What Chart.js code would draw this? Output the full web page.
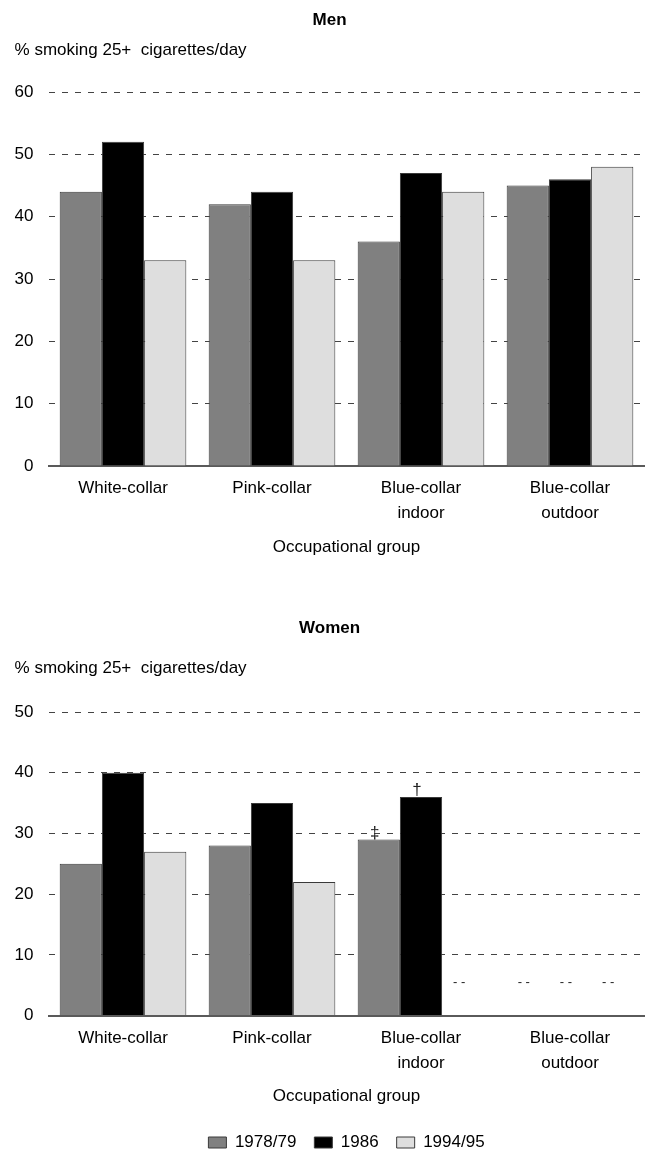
<!DOCTYPE html>
<html>
<head>
<meta charset="utf-8">
<title>Heavy smoking by occupational group</title>
<script src="https://cdn.jsdelivr.net/npm/chart.js@4.4.0/dist/chart.umd.min.js"></script>
<style>
    html, body { margin: 0; padding: 0; background: #fff; overflow: hidden; }
    canvas { display: block; }
</style>
</head>
<body>
<canvas id="men-chart" width="655" height="576"></canvas>
<canvas id="women-chart" width="655" height="585"></canvas>
<script>
// --- Data ---
const categories = ['White-collar', 'Pink-collar', ['Blue-collar', 'indoor'], ['Blue-collar', 'outdoor']];
const seriesLabels = ['1978/79', '1986', '1994/95'];
const seriesColors = ['#808080', '#000000', '#dedede'];

const menValues1978 = [44, 42, 36, 45];
const menValues1986 = [52, 44, 47, 46];
const menValues1994 = [33, 33, 44, 48];

// null = no estimate (shown as "- -")
const womenValues1978 = [25, 28, 29, null];
const womenValues1986 = [40, 35, 36, null];
const womenValues1994 = [27, 22, null, null];

const womenNotes1978 = ['', '', '‡', ''];
const womenNotes1986 = ['', '', '†', ''];
const womenNotes1994 = ['', '', '', ''];

const yAxisLabel = '% smoking 25+  cigarettes/day';
const xAxisLabel = 'Occupational group';
const menMax = 60;
const womenMax = 50;
const tickStep = 10;
const missingMark = '- -';
const missingLevel = 5.5;

const FONT = "'Liberation Sans', Arial, sans-serif";
Chart.defaults.font.family = FONT;
Chart.defaults.color = '#000';

// draws the dagger notes and the "- -" marks for missing bars
const notesPlugin = {
    id: 'notes',
    afterDatasetsDraw(chart, args, opts) {
        if (!opts.notes) return;
        const ctx = chart.ctx;
        const yScale = chart.scales.y;
        ctx.save();
        ctx.fillStyle = '#222';
        ctx.textAlign = 'center';
        chart.data.datasets.forEach((ds, d) => {
            const meta = chart.getDatasetMeta(d);
            meta.data.forEach((bar, i) => {
                if (ds.data[i] === null) {
                    ctx.font = `13px ${FONT}`;
                    ctx.textBaseline = 'middle';
                    ctx.fillText(missingMark, bar.x - 4, yScale.getPixelForValue(missingLevel));
                } else if (opts.notes[d][i]) {
                    ctx.font = `17px ${FONT}`;
                    ctx.textBaseline = 'bottom';
                    ctx.fillText(opts.notes[d][i], bar.x - 4, bar.y + 2);
                }
            });
        });
        ctx.restore();
    }
};

function makeDatasets(values) {
    return values.map((data, k) => ({
        label: seriesLabels[k],
        data: data,
        backgroundColor: seriesColors[k],
        borderColor: '#3a3a3a',
        borderWidth: 1,
        categoryPercentage: 0.85,
        barPercentage: 1.0
    }));
}

// Chart.js counts tick padding twice when sizing an axis; take one back
function trimPadding(scale) {
    if (scale.isHorizontal()) scale.height -= scale.options.ticks.padding;
    else scale.width -= scale.options.ticks.padding;
}

function makeChart(id, title, values, yMax, pads, showLegend, notes) {
    const ctx = document.getElementById(id).getContext('2d');
    return new Chart(ctx, {
        type: 'bar',
        data: {
            labels: categories,
            datasets: makeDatasets(values)
        },
        plugins: [notesPlugin],
        options: {
            responsive: false,
            animation: false,
            devicePixelRatio: 1,
            layout: { padding: { left: 14.6, right: 10.5, top: 0, bottom: pads.bottom } },
            plugins: {
                title: {
                    display: true,
                    text: title,
                    font: { size: 17, weight: 'bold' },
                    padding: { top: pads.titleTop, bottom: 0 }
                },
                subtitle: {
                    display: true,
                    text: yAxisLabel,
                    align: 'start',
                    font: { size: 17 },
                    padding: { top: pads.subTop, bottom: pads.subBottom }
                },
                legend: {
                    display: showLegend,
                    position: 'bottom',
                    fullSize: false,
                    labels: {
                        boxWidth: 18,
                        boxHeight: 11,
                        padding: 18,
                        font: { size: 17 },
                        color: '#000'
                    }
                },
                tooltip: { enabled: false },
                notes: { notes: notes }
            },
            scales: {
                x: {
                    afterFit: trimPadding,
                    grid: { display: false, drawTicks: false },
                    border: { display: true, color: '#5a5a5a', width: 2 },
                    ticks: {
                        font: { size: 17, lineHeight: '25px' },
                        padding: 10,
                        maxRotation: 0,
                        autoSkip: false,
                        color: '#000'
                    },
                    title: {
                        display: true,
                        text: xAxisLabel,
                        font: { size: 17 },
                        padding: { top: 11, bottom: 9 },
                        color: '#000'
                    }
                },
                y: {
                    afterFit: trimPadding,
                    min: 0,
                    max: yMax,
                    grid: { color: '#444', lineWidth: 1, drawTicks: false },
                    border: { display: false, dash: [6, 7] },
                    ticks: {
                        stepSize: tickStep,
                        font: { size: 17 },
                        padding: 15,
                        color: '#000'
                    }
                }
            }
        }
    });
}

makeChart('men-chart', 'Men',
    [menValues1978, menValues1986, menValues1994], menMax,
    { titleTop: 9.8, subTop: 9.6, subBottom: 31.8, bottom: 9.6 }, false, null);

makeChart('women-chart', 'Women',
    [womenValues1978, womenValues1986, womenValues1994], womenMax,
    { titleTop: 41.8, subTop: 19.6, subBottom: 33.8, bottom: 0 }, true,
    [womenNotes1978, womenNotes1986, womenNotes1994]);
</script>
</body>
</html>
